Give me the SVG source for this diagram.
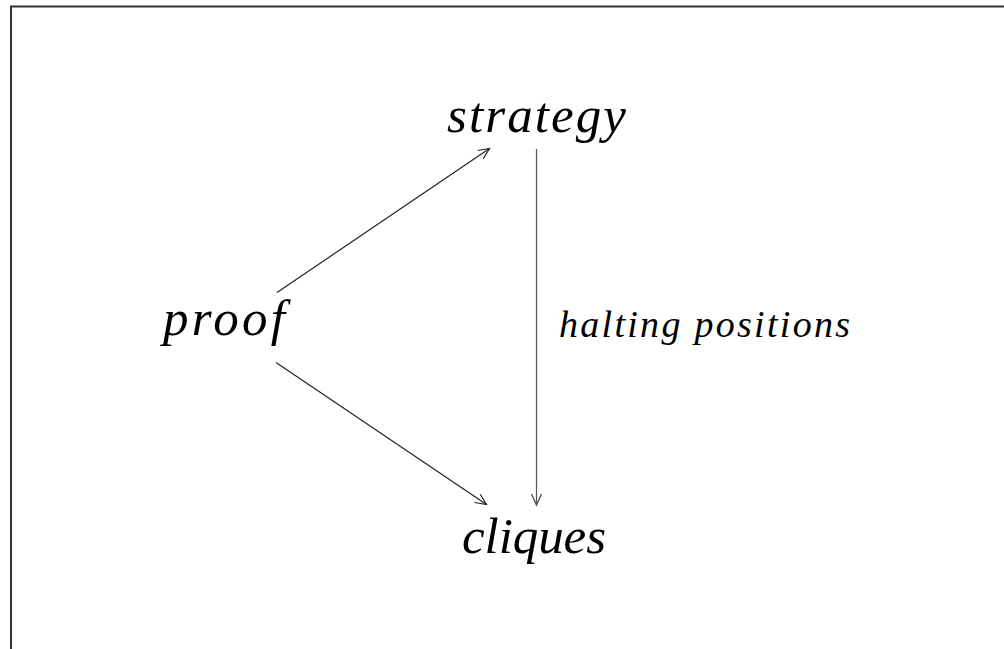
<svg xmlns="http://www.w3.org/2000/svg" width="1004" height="649" viewBox="0 0 1004 649">
<style>
.lbl{font-family:"Liberation Serif","Times New Roman",serif;font-style:italic;fill:#000}
.big{font-size:51px}
.edge{font-size:38px}
.conn{fill:none;stroke-width:1.2}
</style>
<defs>
<marker id="ah" markerUnits="userSpaceOnUse" markerWidth="14" markerHeight="12" refX="11" refY="5" orient="auto" overflow="visible">
<path d="M0,0 L11,5 L0,10" fill="none" stroke="#222" stroke-width="1.2"/>
</marker>
<marker id="ahg" markerUnits="userSpaceOnUse" markerWidth="14" markerHeight="12" refX="11" refY="5" orient="auto" overflow="visible">
<path d="M0,0 L11,5 L0,10" fill="none" stroke="#555" stroke-width="1.4"/>
</marker>
</defs>
<rect width="1004" height="649" fill="#fff"/>
<g id="frame" stroke="#333" stroke-width="2" fill="none">
<line x1="10" y1="6.5" x2="1004" y2="6.5"/>
<line x1="11" y1="6" x2="11" y2="649"/>
</g>
<g id="connectors">
<line class="conn" stroke="#222" x1="277" y1="292.5" x2="489.5" y2="148.5" marker-end="url(#ah)"/>
<line class="conn" stroke="#222" x1="276" y1="362.5" x2="486.5" y2="504.5" marker-end="url(#ah)"/>
<line class="conn" stroke="#555" stroke-width="1.5" x1="536.5" y1="149" x2="536.5" y2="505" marker-end="url(#ahg)"/>
<text class="lbl edge" x="559" y="337" textLength="291" lengthAdjust="spacing">halting positions</text>
</g>
<g id="node-strategy">
<text class="lbl big" x="447" y="132" textLength="179" lengthAdjust="spacing">strategy</text>
</g>
<g id="node-proof">
<text class="lbl big" x="163" y="335" textLength="122" lengthAdjust="spacing">proof</text>
</g>
<g id="node-cliques">
<text class="lbl big" x="462" y="553" textLength="144" lengthAdjust="spacing">cliques</text>
</g>
</svg>
